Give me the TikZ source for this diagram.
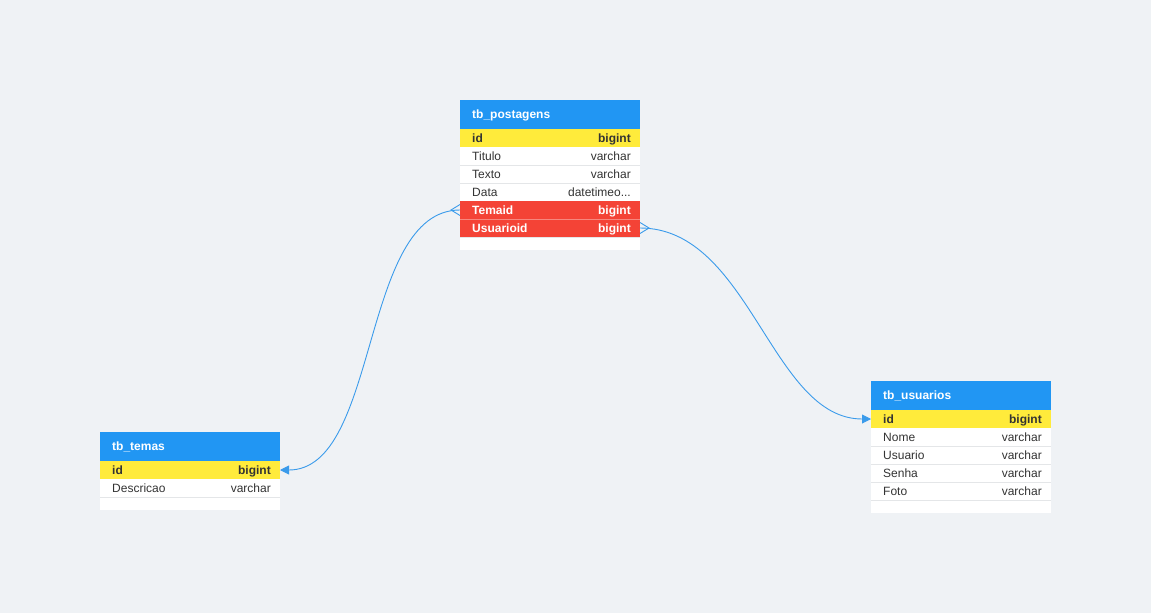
\documentclass[tikz,border=0pt]{standalone}
\usepackage{fontspec}
\setmainfont{Liberation Sans}
\usetikzlibrary{arrows.meta,calc}
\definecolor{bg}{HTML}{EFF2F5}
\definecolor{hdr}{HTML}{2196F3}
\definecolor{pk}{HTML}{FFEB3B}
\definecolor{fk}{HTML}{F44336}
\definecolor{fksep}{HTML}{F7877E}
\definecolor{txt}{HTML}{333333}
\definecolor{sepc}{HTML}{E4E6E8}
\definecolor{link}{HTML}{3A9BEB}
\newcommand{\erdrow}[6]{%
  \node[rowbox,#6] (#1) at (#2,#3) {};
  \node[ltxt,#6txt] (#1-l) at (#1.west) {#4};
  \node[rtxt,#6txt] (#1-r) at (#1.east) {#5};
}
\newcommand{\erdhead}[4]{%
  \node[hdrbox] (#1) at (#2,#3) {};
  \node[hdrtxt] (#1-t) at (#1.west) {#4};
}
\tikzset{
  rowbox/.style={draw=none, minimum width=180pt, minimum height=18pt, inner sep=0, anchor=north west, outer sep=0},
  hdrbox/.style={fill=hdr, draw=none, minimum width=180pt, minimum height=29pt, inner sep=0, anchor=north west, outer sep=0},
  padbox/.style={fill=white, draw=none, minimum width=180pt, minimum height=13pt, inner sep=0, anchor=north west, outer sep=0},
  basetxt/.style={inner sep=0, font=\fontsize{12}{14}\selectfont, text height=8.6pt, text depth=2.4pt, yshift=-1pt},
  ltxt/.style={basetxt, anchor=west, xshift=12pt},
  rtxt/.style={basetxt, anchor=east, xshift=-9pt},
  hdrtxt/.style={basetxt, anchor=west, xshift=12pt, text=white, font=\fontsize{12}{14}\selectfont\bfseries},
  pkrow/.style={fill=pk},
  pkrowtxt/.style={text=txt, font=\fontsize{12}{14}\selectfont\bfseries},
  fkrow/.style={fill=fk},
  fkrowtxt/.style={text=white, font=\fontsize{12}{14}\selectfont\bfseries},
  plainrow/.style={fill=white},
  plainrowtxt/.style={text=txt},
  sepline/.style={draw=sepc, line width=0.8pt},
  fksepline/.style={draw=fksep, line width=0.8pt},
  rel/.style={draw=link, line width=0.9pt},
  relarrow/.style={rel, -{Triangle[length=9pt, width=9pt]}},
}
\begin{document}
\begin{tikzpicture}[x=1pt, y=-1pt]
\fill[bg] (0,0) rectangle (1151,613);
\useasboundingbox (0,0) rectangle (1151,613);

% tb_postagens
\erdhead{pt}{460}{100}{tb\_postagens}
\erdrow{pt-id}{460}{129}{id}{bigint}{pkrow}
\erdrow{pt-titulo}{460}{147}{Titulo}{varchar}{plainrow}
\erdrow{pt-texto}{460}{165}{Texto}{varchar}{plainrow}
\erdrow{pt-data}{460}{183}{Data}{datetimeo...}{plainrow}
\erdrow{pt-temaid}{460}{201}{Temaid}{bigint}{fkrow}
\erdrow{pt-usuarioid}{460}{219}{Usuarioid}{bigint}{fkrow}
\node[padbox] (pt-pad) at (460,237) {};
\draw[sepline] (pt-titulo.south west) -- (pt-titulo.south east);
\draw[sepline] (pt-texto.south west) -- (pt-texto.south east);
\draw[fksepline] (pt-temaid.south west) -- (pt-temaid.south east);
\draw[sepline] (pt-usuarioid.south west) -- (pt-usuarioid.south east);

% tb_temas
\erdhead{tt}{100}{432}{tb\_temas}
\erdrow{tt-id}{100}{461}{id}{bigint}{pkrow}
\erdrow{tt-desc}{100}{479}{Descricao}{varchar}{plainrow}
\node[padbox] (tt-pad) at (100,497) {};
\draw[sepline] (tt-desc.south west) -- (tt-desc.south east);

% tb_usuarios
\erdhead{tu}{871}{381}{tb\_usuarios}
\erdrow{tu-id}{871}{410}{id}{bigint}{pkrow}
\erdrow{tu-nome}{871}{428}{Nome}{varchar}{plainrow}
\erdrow{tu-usuario}{871}{446}{Usuario}{varchar}{plainrow}
\erdrow{tu-senha}{871}{464}{Senha}{varchar}{plainrow}
\erdrow{tu-foto}{871}{482}{Foto}{varchar}{plainrow}
\node[padbox] (tu-pad) at (871,500) {};
\draw[sepline] (tu-nome.south west) -- (tu-nome.south east);
\draw[sepline] (tu-usuario.south west) -- (tu-usuario.south east);
\draw[sepline] (tu-senha.south west) -- (tu-senha.south east);
\draw[sepline] (tu-foto.south west) -- (tu-foto.south east);

% crow's feet coordinates
\coordinate (cfa) at ($(pt-temaid.west)+(-9,0)$);
\coordinate (cfa1) at ($(pt-temaid.west)+(0,-5.5)$);
\coordinate (cfa2) at ($(pt-temaid.west)+(0,5.5)$);
\coordinate (cfb) at ($(pt-usuarioid.east)+(9,0)$);
\coordinate (cfb1) at ($(pt-usuarioid.east)+(0,-5.5)$);
\coordinate (cfb2) at ($(pt-usuarioid.east)+(0,5.5)$);

% relations
\draw[relarrow] (pt-temaid.west) .. controls +(-100,0) and +(100,0) .. (tt-id.east);
\draw[rel] (cfa1) -- (cfa) -- (cfa2);
\draw[relarrow] (pt-usuarioid.east) .. controls +(110,0) and +(-100,0) .. (tu-id.west);
\draw[rel] (cfb1) -- (cfb) -- (cfb2);
\end{tikzpicture}
\end{document}
